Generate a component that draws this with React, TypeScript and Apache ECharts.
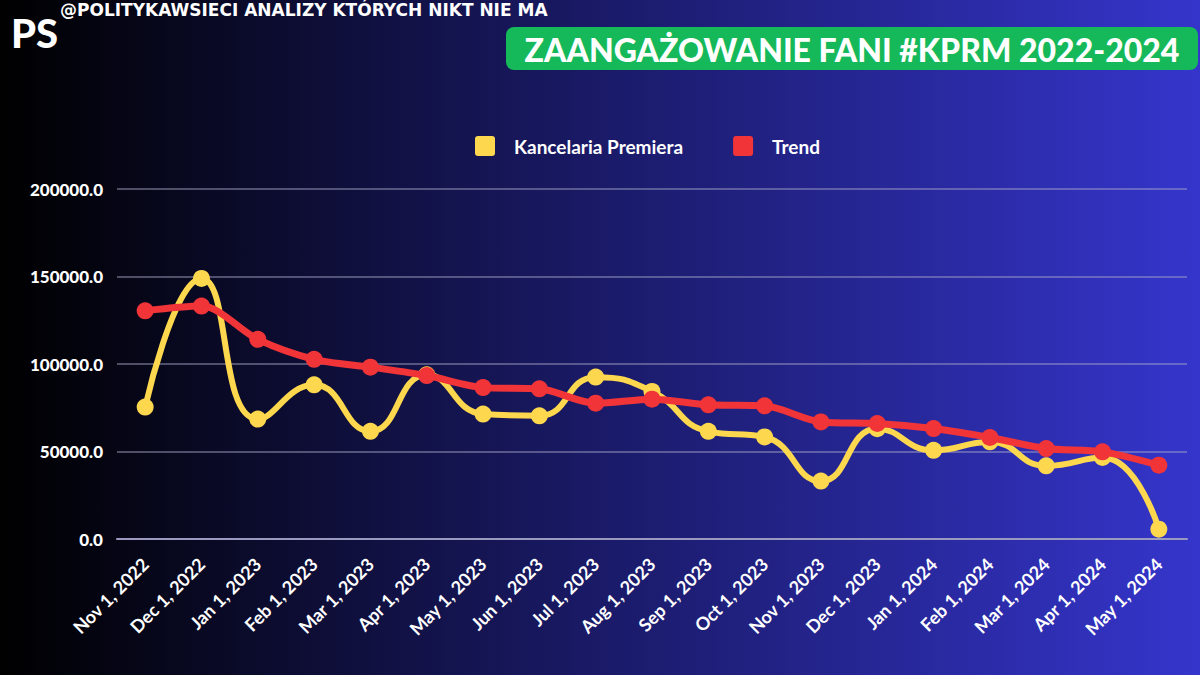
import React, { useEffect, useRef } from "react";
import * as echarts from "echarts";

const categories = [
  "Nov 1, 2022", "Dec 1, 2022", "Jan 1, 2023", "Feb 1, 2023", "Mar 1, 2023", "Apr 1, 2023",
  "May 1, 2023", "Jun 1, 2023", "Jul 1, 2023", "Aug 1, 2023", "Sep 1, 2023", "Oct 1, 2023",
  "Nov 1, 2023", "Dec 1, 2023", "Jan 1, 2024", "Feb 1, 2024", "Mar 1, 2024", "Apr 1, 2024",
  "May 1, 2024",
];

const kancelaria = [
  75400, 148900, 68500, 88100, 61500, 93800, 71400, 70400, 92500, 84300, 61500, 58300,
  33100, 63000, 50700, 55500, 41800, 46600, 5600,
];

const trend = [
  130400, 133100, 114100, 102700, 98200, 93400, 86500, 85800, 77600, 79900, 76700, 76100,
  66900, 66000, 63100, 58000, 51700, 49800, 42200,
];

const seriesNames = ["Kancelaria Premiera", "Trend"];
const yMin = 0;
const yMax = 200000;
const yInterval = 50000;

const headerText = "@POLITYKAWSIECI ANALIZY KTÓRYCH NIKT NIE MA";
const titleText = "ZAANGAŻOWANIE FANI #KPRM 2022-2024";
const logoText = "PS";

const FONT = "Lato";
const squareIcon =
  "path://M3,0 H17 Q20,0 20,3 V17 Q20,20 17,20 H3 Q0,20 0,17 V3 Q0,0 3,0 Z";

export default function App() {
  const ref = useRef<HTMLDivElement>(null);

  useEffect(() => {
    if (!ref.current) return;
    const chart = echarts.init(ref.current, null, { renderer: "svg" });
    chart.setOption({
      animation: false,
      backgroundColor: new echarts.graphic.LinearGradient(0, 0, 1, 0, [
        { offset: 0, color: "#000000" },
        { offset: 0.5, color: "#1a1a68" },
        { offset: 1, color: "#3535cc" },
      ]),
      textStyle: { fontFamily: FONT },
      graphic: [
        {
          type: "text",
          left: 60,
          top: 1,
          style: {
            text: headerText,
            fill: "#ffffff",
            font: `bold 17px "DejaVu Sans"`,
          },
        },
        {
          type: "text",
          left: 11,
          top: 13,
          style: {
            text: logoText,
            fill: "#ffffff",
            font: `900 40px ${FONT}`,
          },
        },
        {
          type: "group",
          left: 506,
          top: 27,
          children: [
            {
              type: "rect",
              shape: { x: 0, y: 0, width: 692, height: 43, r: 8 },
              style: { fill: "#16b95a" },
            },
            {
              type: "text",
              x: 346,
              y: 22,
              style: {
                text: titleText,
                fill: "#ffffff",
                font: `900 32px ${FONT}`,
                align: "center",
                verticalAlign: "middle",
              },
            },
          ],
        },
      ],
      legend: {
        top: 131,
        left: 470,
        itemWidth: 20,
        itemHeight: 20,
        itemGap: 50,
        icon: squareIcon,
        data: seriesNames,
        textStyle: {
          color: "#ffffff",
          fontSize: 19,
          fontWeight: "bold",
          fontFamily: FONT,
          padding: [0, 0, 0, 14],
        },
      },
      grid: { left: 117, right: 13, top: 189, bottom: 136, containLabel: false },
      xAxis: {
        type: "category",
        data: categories,
        boundaryGap: true,
        axisLine: { show: true, lineStyle: { color: "#9a9ac0", width: 2 } },
        axisTick: { show: false },
        axisLabel: {
          rotate: 45,
          interval: 0,
          color: "#ffffff",
          fontSize: 18,
          fontWeight: "bold",
          fontFamily: FONT,
          margin: 22,
        },
      },
      yAxis: {
        type: "value",
        min: yMin,
        max: yMax,
        interval: yInterval,
        axisLine: { show: false },
        axisTick: { show: false },
        splitLine: { lineStyle: { color: "rgba(170,170,200,0.6)", width: 1.5 } },
        axisLabel: {
          color: "#ffffff",
          fontSize: 17,
          fontWeight: 900,
          fontFamily: FONT,
          margin: 14,
          formatter: (v: number) => v.toFixed(1),
        },
      },
      series: [
        {
          name: seriesNames[0],
          type: "line",
          data: kancelaria,
          smooth: 0.5,
          symbol: "circle",
          symbolSize: 17,
          lineStyle: { color: "#fdd84e", width: 6 },
          itemStyle: { color: "#fdd84e" },
          z: 2,
        },
        {
          name: seriesNames[1],
          type: "line",
          data: trend,
          smooth: 0.3,
          symbol: "circle",
          symbolSize: 17,
          lineStyle: { color: "#f03438", width: 7 },
          itemStyle: { color: "#f03438" },
          z: 3,
        },
      ],
    });
    return () => chart.dispose();
  }, []);

  return (
    <div
      ref={ref}
      style={{ position: "fixed", left: 0, top: 0, width: 1200, height: 675 }}
    />
  );
}
